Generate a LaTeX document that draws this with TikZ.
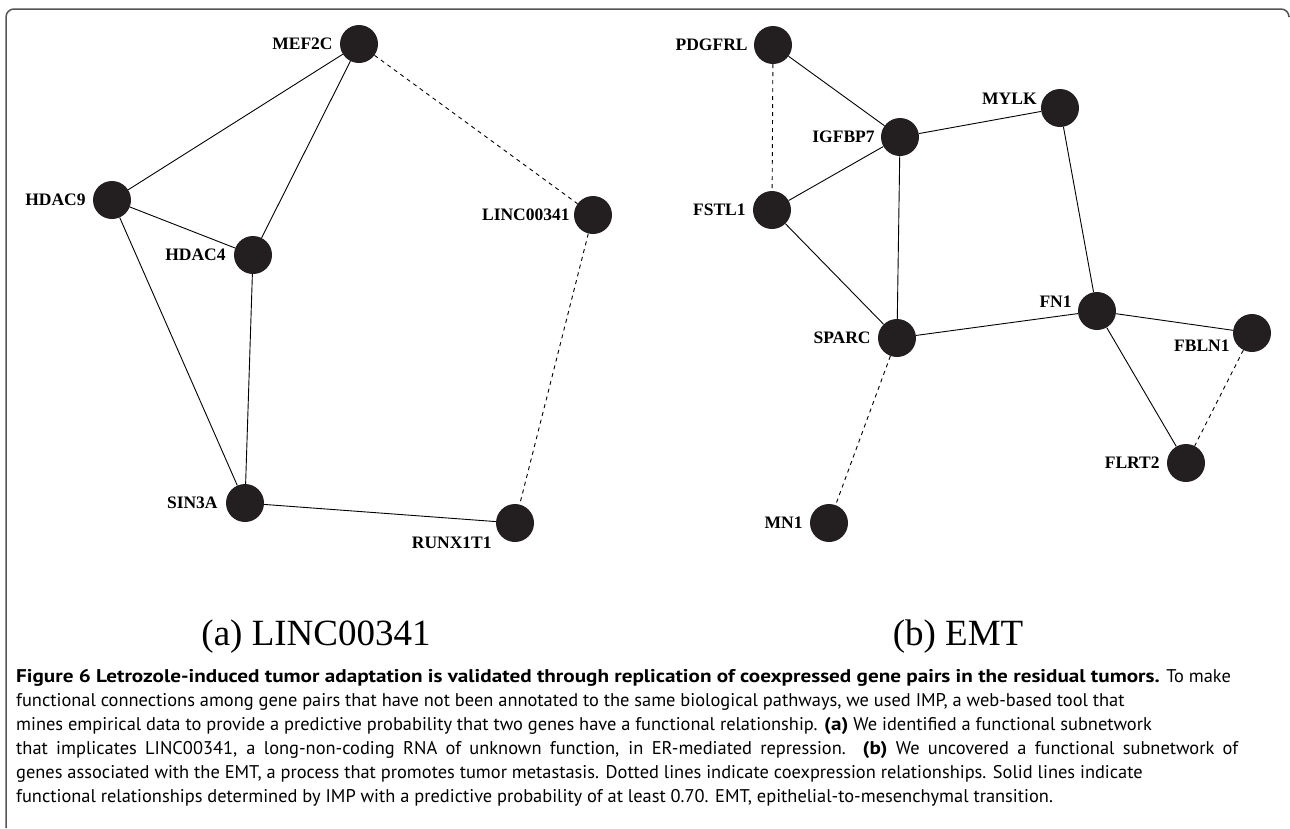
\documentclass[tikz,border=0pt]{standalone}
\usepackage{fontspec}
\setmainfont{Liberation Serif}
\newfontfamily\capfont{PT Sans}[BoldFeatures={FakeStretch=1.15}]
\usetikzlibrary{positioning}
\definecolor{genefill}{RGB}{35,31,32}
\definecolor{framegray}{RGB}{85,85,85}

\begin{document}
\begin{tikzpicture}[x=1pt,y=-1pt,
    gene/.style={circle,fill=genefill,minimum size=38pt,inner sep=0pt},
    genelabel/.style={font=\bfseries\fontsize{17.5}{20}\selectfont,inner sep=0pt},
    func/.style={line width=0.9pt},
    coexp/.style={line width=0.9pt,dash pattern=on 4pt off 4pt},
    subcap/.style={font=\fontsize{37}{44}\selectfont,inner sep=0pt},
    captext/.style={font=\capfont\fontsize{18.4}{24}\selectfont,align=left,inner sep=0pt}]

            \useasboundingbox (0,0) rectangle (1290,828);
            \draw[framegray,line width=1.5pt,rounded corners=8pt] (6,828) -- (6,9) -- (1289,9) -- (1289,16);

            % (a) LINC00341
            \node (mef) [gene] at (359,44) {};
            \node (hdacnine) [gene] at (112,200) {};
            \node (hdacfour) [gene] at (253,255) {};
            \node (linc) [gene] at (593,215) {};
            \node (sin) [gene] at (245,503) {};
            \node (runx) [gene] at (515,523) {};

            \node (meflbl) [genelabel,left=7pt of mef] {MEF2C};
            \node (hdacninelbl) [genelabel,left=7pt of hdacnine] {HDAC9};
            \node (hdacfourlbl) [genelabel,left=8pt of hdacfour] {HDAC4};
            \node (linclbl) [genelabel,left=4pt of linc] {LINC00341};
            \node (sinlbl) [genelabel,left=8pt of sin] {SIN3A};
            \node (runxlbl) [genelabel,anchor=north east] at ([xshift=-4pt,yshift=-14pt]runx.west) {RUNX1T1};

            \draw[func] (mef) -- (hdacnine);
            \draw[func] (mef) -- (hdacfour);
            \draw[func] (hdacnine) -- (hdacfour);
            \draw[func] (hdacnine) -- (sin);
            \draw[func] (hdacfour) -- (sin);
            \draw[func] (sin) -- (runx);
            \draw[coexp] (mef) -- (linc);
            \draw[coexp] (linc) -- (runx);

            % (b) EMT
            \node (pdgfrl) [gene] at (773,45) {};
            \node (igfbp) [gene] at (900,137) {};
            \node (mylk) [gene] at (1060,108) {};
            \node (fstl) [gene] at (772,210) {};
            \node (sparc) [gene] at (897,338) {};
            \node (fnone) [gene] at (1097,311) {};
            \node (fbln) [gene] at (1252,333) {};
            \node (flrt) [gene] at (1186,463) {};
            \node (mnone) [gene] at (829,523) {};

            \node (pdgfrllbl) [genelabel,left=6pt of pdgfrl] {PDGFRL};
            \node (igfbplbl) [genelabel,left=6pt of igfbp] {IGFBP7};
            \node (mylklbl) [genelabel,left=4pt of mylk,yshift=9pt] {MYLK};
            \node (fstllbl) [genelabel,left=7pt of fstl] {FSTL1};
            \node (sparclbl) [genelabel,left=7pt of sparc] {SPARC};
            \node (fnonelbl) [genelabel,left=6pt of fnone,yshift=9pt] {FN1};
            \node (fblnlbl) [genelabel,anchor=north east] at ([xshift=-3pt,yshift=-7pt]fbln.west) {FBLN1};
            \node (flrtlbl) [genelabel,left=7pt of flrt] {FLRT2};
            \node (mnonelbl) [genelabel,left=7pt of mnone] {MN1};

            \draw[func] (pdgfrl) -- (igfbp);
            \draw[func] (igfbp) -- (mylk);
            \draw[func] (igfbp) -- (fstl);
            \draw[func] (igfbp) -- (sparc);
            \draw[func] (fstl) -- (sparc);
            \draw[func] (mylk) -- (fnone);
            \draw[func] (sparc) -- (fnone);
            \draw[func] (fnone) -- (fbln);
            \draw[func] (fnone) -- (flrt);
            \draw[coexp] (pdgfrl) -- (fstl);
            \draw[coexp] (sparc) -- (mnone);
            \draw[coexp] (fbln) -- (flrt);

            \node (suba) [subcap,anchor=base] at (316,645) {(a) LINC00341};
            \node (subb) [subcap,anchor=base] at (958,645) {(b) EMT};

            \node (caption) [captext,anchor=base west] at (16,802) {\textbf{Figure 6 Letrozole-induced tumor adaptation is validated through replication of coexpressed gene pairs in the residual tumors.} To make\\
functional connections among gene pairs that have not been annotated to the same biological pathways, we used IMP, a web-based tool that\\
mines empirical data to provide a predictive probability that two genes have a functional relationship. \textbf{(a)} We identified a functional subnetwork\\
\makebox[1222pt][s]{that implicates LINC00341, a long-non-coding RNA of unknown function, in ER-mediated repression. \textbf{(b)} We uncovered a functional subnetwork of}\\
genes associated with the EMT, a process that promotes tumor metastasis. Dotted lines indicate coexpression relationships. Solid lines indicate\\
functional relationships determined by IMP with a predictive probability of at least 0.70. EMT, epithelial-to-mesenchymal transition.};

        \end{tikzpicture}
\end{document}
